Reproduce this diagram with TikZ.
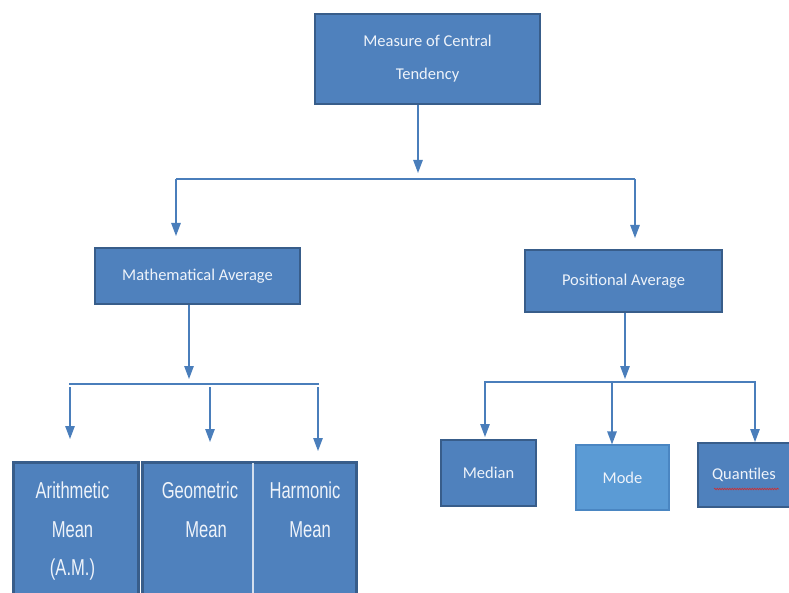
\documentclass[tikz,border=0pt]{standalone}
\usepackage{fontspec}
\setmainfont{Carlito}
\newfontfamily\narrowfont[FakeStretch=0.72]{Liberation Sans}
\usetikzlibrary{arrows.meta,decorations.pathmorphing}

\definecolor{boxblue}{HTML}{4F81BD}
\definecolor{boxedge}{HTML}{385D8A}
\definecolor{modeblue}{HTML}{5B9BD5}
\definecolor{modeedge}{HTML}{4A86C2}
\definecolor{lineblue}{HTML}{4A7EBB}
\definecolor{textwhite}{HTML}{EEF3FA}
\definecolor{spellred}{HTML}{D42A2A}

\tikzset{
  box/.style={draw=boxedge, line width=2pt, fill=boxblue, text=textwhite,
    font=\fontsize{16.5}{33}\selectfont, align=center, inner sep=0pt},
  meanbox/.style={draw=boxedge, line width=2.5pt, fill=boxblue, inner sep=0pt,
    anchor=north west},
  meantext/.style={text=textwhite, font=\narrowfont\fontsize{23}{38.5}\selectfont,
    align=center, inner sep=0pt, anchor=north},
  link/.style={draw=lineblue, line width=1.2pt},
  arr/.style={link, -{Triangle[width=9.5pt,length=13pt]}},
  spell/.style={draw=spellred, line width=0.6pt,
    decorate, decoration={snake, amplitude=0.8pt, segment length=2.5pt}},
}

\begin{document}
\begin{tikzpicture}[x=1pt,y=-1pt]
  \useasboundingbox (0,0) rectangle (789,593);
  \clip (0,0) rectangle (789,593);

  % boxes
  \node[box, minimum width=225, minimum height=90] (top) at (427.5,59)
    {Measure of Central\\Tendency};
  \node[box, minimum width=205, minimum height=56] (math) at (197.5,276)
    {Mathematical Average};
  \node[box, minimum width=197, minimum height=62] (pos) at (623.5,281)
    {Positional Average};

  \node[box, minimum width=95, minimum height=66] (median) at (488.5,473) {Median};
  \node[box, draw=modeedge, line width=1.2pt, fill=modeblue,
    minimum width=93, minimum height=65] (mode) at (622.5,477.5) {Mode};
  \node[box, minimum width=93, minimum height=64] (quant) at (744,475) {Quantiles};
  \draw[spell] (714,489) -- (779,489);

  \node[meanbox, minimum width=125, minimum height=160] (amBox) at (12,461) {};
  \node[meanbox, minimum width=214, minimum height=160] (ghBox) at (141,461) {};
  \draw[white!75!boxblue, line width=1.4pt] (253,463) -- (253,593);

  \node[meantext] (am) at (72.5,482) {Arithmetic\\Mean\\(A.M.)};
  \node[meantext] (gm) at (200,482) {Geometric\\\hspace*{12pt}Mean};
  \node[meantext] (hm) at (305,482) {Harmonic\\\hspace*{10pt}Mean};

  % first split
  \coordinate (topdrop) at (418,173);
  \coordinate (busAl) at (176,179);
  \coordinate (busAr) at (635,179);
  \draw[arr] (top.south -| topdrop) -- (topdrop);
  \draw[link] (busAl) -- (busAr);
  \draw[arr, shorten >=11pt] (busAl) -- (math.north -| busAl);
  \draw[arr, shorten >=11pt] (busAr) -- (pos.north -| busAr);

  % means
  \coordinate (mathdrop) at (189,379);
  \coordinate (busBl) at (69,384);
  \coordinate (busBr) at (319,384);
  \draw[arr] (math.south -| mathdrop) -- (mathdrop);
  \draw[link] (busBl) -- (busBr);
  \draw[arr] (70,387) -- (70,439);
  \draw[arr] (210,387) -- (210,442);
  \draw[arr] (318,387) -- (318,451);

  % positional
  \coordinate (posdrop) at (625,379);
  \coordinate (busCl) at (484,382);
  \coordinate (busCr) at (756,382);
  \draw[arr] (pos.south -| posdrop) -- (posdrop);
  \draw[link] (busCl) -- (busCr);
  \draw[arr] (485,382) -- (median.north -| 485,0) [shorten >=2pt];
  \draw[arr] (612,382) -- (mode.north -| 612,0);
  \draw[arr] (755,382) -- (quant.north -| 755,0);
\end{tikzpicture}
\end{document}
